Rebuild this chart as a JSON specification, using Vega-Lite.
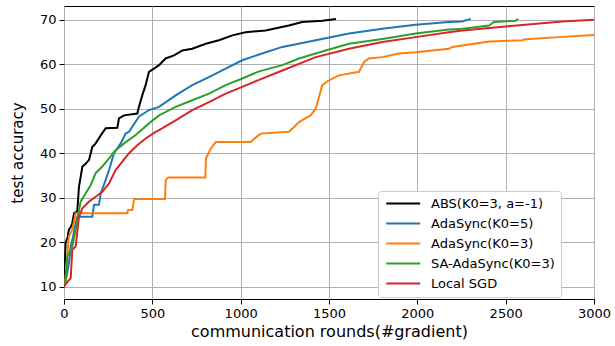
{
  "$schema": "https://vega.github.io/schema/vega-lite/v6.json",
  "width": 530,
  "height": 293,
  "autosize": "none",
  "padding": {"left": 64, "top": 6, "right": 21, "bottom": 47},
  "background": "white",
  "config": {
    "font": "DejaVu Sans",
    "view": {"stroke": "black", "strokeWidth": 1},
    "axis": {
      "domain": false,
      "gridColor": "#b0b0b0",
      "gridWidth": 1,
      "tickColor": "black",
      "tickSize": 5,
      "labelColor": "black",
      "labelFontSize": 13,
      "labelFont": "DejaVu Sans",
      "titleFont": "DejaVu Sans",
      "titleFontWeight": "normal",
      "titleColor": "black",
      "labelPadding": 3
    }
  },
  "data": {
    "values": [
      {"s": "ABS(K0=3, a=-1)", "x": 0, "y": 10},
      {"s": "ABS(K0=3, a=-1)", "x": 9, "y": 19.8},
      {"s": "ABS(K0=3, a=-1)", "x": 20, "y": 21},
      {"s": "ABS(K0=3, a=-1)", "x": 28, "y": 22.8},
      {"s": "ABS(K0=3, a=-1)", "x": 40, "y": 23.5},
      {"s": "ABS(K0=3, a=-1)", "x": 47, "y": 24.3},
      {"s": "ABS(K0=3, a=-1)", "x": 57, "y": 26.5},
      {"s": "ABS(K0=3, a=-1)", "x": 75, "y": 26.9},
      {"s": "ABS(K0=3, a=-1)", "x": 85, "y": 32.5},
      {"s": "ABS(K0=3, a=-1)", "x": 104, "y": 37},
      {"s": "ABS(K0=3, a=-1)", "x": 120, "y": 37.5},
      {"s": "ABS(K0=3, a=-1)", "x": 142, "y": 38.5},
      {"s": "ABS(K0=3, a=-1)", "x": 160, "y": 41.4},
      {"s": "ABS(K0=3, a=-1)", "x": 179, "y": 42.2},
      {"s": "ABS(K0=3, a=-1)", "x": 208, "y": 44},
      {"s": "ABS(K0=3, a=-1)", "x": 236, "y": 45.6},
      {"s": "ABS(K0=3, a=-1)", "x": 302, "y": 45.7},
      {"s": "ABS(K0=3, a=-1)", "x": 311, "y": 47.8},
      {"s": "ABS(K0=3, a=-1)", "x": 340, "y": 48.5},
      {"s": "ABS(K0=3, a=-1)", "x": 415, "y": 48.9},
      {"s": "ABS(K0=3, a=-1)", "x": 424, "y": 50.4},
      {"s": "ABS(K0=3, a=-1)", "x": 443, "y": 53},
      {"s": "ABS(K0=3, a=-1)", "x": 462, "y": 55.3},
      {"s": "ABS(K0=3, a=-1)", "x": 481, "y": 58.3},
      {"s": "ABS(K0=3, a=-1)", "x": 509, "y": 59},
      {"s": "ABS(K0=3, a=-1)", "x": 538, "y": 59.8},
      {"s": "ABS(K0=3, a=-1)", "x": 575, "y": 61.3},
      {"s": "ABS(K0=3, a=-1)", "x": 623, "y": 62},
      {"s": "ABS(K0=3, a=-1)", "x": 670, "y": 63.1},
      {"s": "ABS(K0=3, a=-1)", "x": 726, "y": 63.5},
      {"s": "ABS(K0=3, a=-1)", "x": 802, "y": 64.6},
      {"s": "ABS(K0=3, a=-1)", "x": 877, "y": 65.4},
      {"s": "ABS(K0=3, a=-1)", "x": 953, "y": 66.5},
      {"s": "ABS(K0=3, a=-1)", "x": 1028, "y": 67.2},
      {"s": "ABS(K0=3, a=-1)", "x": 1141, "y": 67.6},
      {"s": "ABS(K0=3, a=-1)", "x": 1273, "y": 68.7},
      {"s": "ABS(K0=3, a=-1)", "x": 1349, "y": 69.5},
      {"s": "ABS(K0=3, a=-1)", "x": 1462, "y": 69.8},
      {"s": "ABS(K0=3, a=-1)", "x": 1540, "y": 70.2},

      {"s": "AdaSync(K0=5)", "x": 0, "y": 10},
      {"s": "AdaSync(K0=5)", "x": 6, "y": 10.4},
      {"s": "AdaSync(K0=5)", "x": 28, "y": 15.3},
      {"s": "AdaSync(K0=5)", "x": 38, "y": 19},
      {"s": "AdaSync(K0=5)", "x": 50, "y": 21},
      {"s": "AdaSync(K0=5)", "x": 65, "y": 24},
      {"s": "AdaSync(K0=5)", "x": 75, "y": 25.7},
      {"s": "AdaSync(K0=5)", "x": 160, "y": 25.7},
      {"s": "AdaSync(K0=5)", "x": 170, "y": 28.4},
      {"s": "AdaSync(K0=5)", "x": 198, "y": 28.4},
      {"s": "AdaSync(K0=5)", "x": 208, "y": 31},
      {"s": "AdaSync(K0=5)", "x": 236, "y": 34},
      {"s": "AdaSync(K0=5)", "x": 255, "y": 36.2},
      {"s": "AdaSync(K0=5)", "x": 283, "y": 40},
      {"s": "AdaSync(K0=5)", "x": 321, "y": 42.2},
      {"s": "AdaSync(K0=5)", "x": 349, "y": 44.4},
      {"s": "AdaSync(K0=5)", "x": 368, "y": 44.8},
      {"s": "AdaSync(K0=5)", "x": 424, "y": 48.2},
      {"s": "AdaSync(K0=5)", "x": 481, "y": 49.7},
      {"s": "AdaSync(K0=5)", "x": 538, "y": 50.4},
      {"s": "AdaSync(K0=5)", "x": 632, "y": 53},
      {"s": "AdaSync(K0=5)", "x": 726, "y": 55.3},
      {"s": "AdaSync(K0=5)", "x": 820, "y": 57.1},
      {"s": "AdaSync(K0=5)", "x": 915, "y": 59},
      {"s": "AdaSync(K0=5)", "x": 1009, "y": 60.9},
      {"s": "AdaSync(K0=5)", "x": 1104, "y": 62.2},
      {"s": "AdaSync(K0=5)", "x": 1236, "y": 63.9},
      {"s": "AdaSync(K0=5)", "x": 1425, "y": 65.4},
      {"s": "AdaSync(K0=5)", "x": 1613, "y": 66.9},
      {"s": "AdaSync(K0=5)", "x": 1802, "y": 68},
      {"s": "AdaSync(K0=5)", "x": 1990, "y": 68.9},
      {"s": "AdaSync(K0=5)", "x": 2179, "y": 69.5},
      {"s": "AdaSync(K0=5)", "x": 2254, "y": 69.6},
      {"s": "AdaSync(K0=5)", "x": 2302, "y": 70.2},

      {"s": "AdaSync(K0=3)", "x": 0, "y": 10},
      {"s": "AdaSync(K0=3)", "x": 6, "y": 10.4},
      {"s": "AdaSync(K0=3)", "x": 19, "y": 17.5},
      {"s": "AdaSync(K0=3)", "x": 28, "y": 21.3},
      {"s": "AdaSync(K0=3)", "x": 47, "y": 22.8},
      {"s": "AdaSync(K0=3)", "x": 62, "y": 25.7},
      {"s": "AdaSync(K0=3)", "x": 66, "y": 26.5},
      {"s": "AdaSync(K0=3)", "x": 359, "y": 26.5},
      {"s": "AdaSync(K0=3)", "x": 362, "y": 27.2},
      {"s": "AdaSync(K0=3)", "x": 387, "y": 27.2},
      {"s": "AdaSync(K0=3)", "x": 397, "y": 29.7},
      {"s": "AdaSync(K0=3)", "x": 572, "y": 29.7},
      {"s": "AdaSync(K0=3)", "x": 576, "y": 34},
      {"s": "AdaSync(K0=3)", "x": 590, "y": 34.5},
      {"s": "AdaSync(K0=3)", "x": 800, "y": 34.5},
      {"s": "AdaSync(K0=3)", "x": 803, "y": 38.8},
      {"s": "AdaSync(K0=3)", "x": 830, "y": 41},
      {"s": "AdaSync(K0=3)", "x": 859, "y": 42.5},
      {"s": "AdaSync(K0=3)", "x": 1057, "y": 42.5},
      {"s": "AdaSync(K0=3)", "x": 1075, "y": 43.2},
      {"s": "AdaSync(K0=3)", "x": 1113, "y": 44.4},
      {"s": "AdaSync(K0=3)", "x": 1273, "y": 44.8},
      {"s": "AdaSync(K0=3)", "x": 1302, "y": 45.9},
      {"s": "AdaSync(K0=3)", "x": 1330, "y": 47},
      {"s": "AdaSync(K0=3)", "x": 1396, "y": 48.5},
      {"s": "AdaSync(K0=3)", "x": 1425, "y": 50},
      {"s": "AdaSync(K0=3)", "x": 1443, "y": 52.6},
      {"s": "AdaSync(K0=3)", "x": 1462, "y": 55.3},
      {"s": "AdaSync(K0=3)", "x": 1500, "y": 56.4},
      {"s": "AdaSync(K0=3)", "x": 1557, "y": 57.5},
      {"s": "AdaSync(K0=3)", "x": 1670, "y": 58.3},
      {"s": "AdaSync(K0=3)", "x": 1698, "y": 60.5},
      {"s": "AdaSync(K0=3)", "x": 1726, "y": 61.3},
      {"s": "AdaSync(K0=3)", "x": 1802, "y": 61.6},
      {"s": "AdaSync(K0=3)", "x": 1896, "y": 62.4},
      {"s": "AdaSync(K0=3)", "x": 1990, "y": 62.7},
      {"s": "AdaSync(K0=3)", "x": 2179, "y": 63.5},
      {"s": "AdaSync(K0=3)", "x": 2198, "y": 63.9},
      {"s": "AdaSync(K0=3)", "x": 2406, "y": 65.1},
      {"s": "AdaSync(K0=3)", "x": 2594, "y": 65.4},
      {"s": "AdaSync(K0=3)", "x": 2613, "y": 65.6},
      {"s": "AdaSync(K0=3)", "x": 2802, "y": 66.1},
      {"s": "AdaSync(K0=3)", "x": 3000, "y": 66.6},

      {"s": "SA-AdaSync(K0=3)", "x": 0, "y": 10},
      {"s": "SA-AdaSync(K0=3)", "x": 6, "y": 10.4},
      {"s": "SA-AdaSync(K0=3)", "x": 19, "y": 16.8},
      {"s": "SA-AdaSync(K0=3)", "x": 47, "y": 19},
      {"s": "SA-AdaSync(K0=3)", "x": 66, "y": 22.8},
      {"s": "SA-AdaSync(K0=3)", "x": 85, "y": 27.2},
      {"s": "SA-AdaSync(K0=3)", "x": 94, "y": 29.1},
      {"s": "SA-AdaSync(K0=3)", "x": 123, "y": 31},
      {"s": "SA-AdaSync(K0=3)", "x": 151, "y": 32.8},
      {"s": "SA-AdaSync(K0=3)", "x": 179, "y": 35.5},
      {"s": "SA-AdaSync(K0=3)", "x": 217, "y": 37},
      {"s": "SA-AdaSync(K0=3)", "x": 255, "y": 38.8},
      {"s": "SA-AdaSync(K0=3)", "x": 283, "y": 40.3},
      {"s": "SA-AdaSync(K0=3)", "x": 340, "y": 42.2},
      {"s": "SA-AdaSync(K0=3)", "x": 406, "y": 44.1},
      {"s": "SA-AdaSync(K0=3)", "x": 481, "y": 46.7},
      {"s": "SA-AdaSync(K0=3)", "x": 538, "y": 48.5},
      {"s": "SA-AdaSync(K0=3)", "x": 632, "y": 50.4},
      {"s": "SA-AdaSync(K0=3)", "x": 726, "y": 51.9},
      {"s": "SA-AdaSync(K0=3)", "x": 821, "y": 53.4},
      {"s": "SA-AdaSync(K0=3)", "x": 915, "y": 55.3},
      {"s": "SA-AdaSync(K0=3)", "x": 1009, "y": 56.8},
      {"s": "SA-AdaSync(K0=3)", "x": 1104, "y": 58.4},
      {"s": "SA-AdaSync(K0=3)", "x": 1236, "y": 59.8},
      {"s": "SA-AdaSync(K0=3)", "x": 1330, "y": 61.3},
      {"s": "SA-AdaSync(K0=3)", "x": 1481, "y": 63.1},
      {"s": "SA-AdaSync(K0=3)", "x": 1613, "y": 64.6},
      {"s": "SA-AdaSync(K0=3)", "x": 1802, "y": 65.7},
      {"s": "SA-AdaSync(K0=3)", "x": 1990, "y": 66.9},
      {"s": "SA-AdaSync(K0=3)", "x": 2179, "y": 67.8},
      {"s": "SA-AdaSync(K0=3)", "x": 2236, "y": 67.9},
      {"s": "SA-AdaSync(K0=3)", "x": 2406, "y": 68.7},
      {"s": "SA-AdaSync(K0=3)", "x": 2434, "y": 69.5},
      {"s": "SA-AdaSync(K0=3)", "x": 2557, "y": 69.8},
      {"s": "SA-AdaSync(K0=3)", "x": 2570, "y": 70.2},

      {"s": "Local SGD", "x": 0, "y": 10},
      {"s": "Local SGD", "x": 6, "y": 10.4},
      {"s": "Local SGD", "x": 38, "y": 11.9},
      {"s": "Local SGD", "x": 47, "y": 18.3},
      {"s": "Local SGD", "x": 66, "y": 19},
      {"s": "Local SGD", "x": 85, "y": 25.7},
      {"s": "Local SGD", "x": 104, "y": 27.6},
      {"s": "Local SGD", "x": 142, "y": 29.1},
      {"s": "Local SGD", "x": 179, "y": 30.2},
      {"s": "Local SGD", "x": 217, "y": 31.3},
      {"s": "Local SGD", "x": 255, "y": 33.2},
      {"s": "Local SGD", "x": 292, "y": 36.2},
      {"s": "Local SGD", "x": 330, "y": 38.1},
      {"s": "Local SGD", "x": 368, "y": 40},
      {"s": "Local SGD", "x": 415, "y": 41.8},
      {"s": "Local SGD", "x": 462, "y": 43.3},
      {"s": "Local SGD", "x": 519, "y": 44.8},
      {"s": "Local SGD", "x": 538, "y": 45.2},
      {"s": "Local SGD", "x": 632, "y": 47.4},
      {"s": "Local SGD", "x": 726, "y": 49.7},
      {"s": "Local SGD", "x": 821, "y": 51.5},
      {"s": "Local SGD", "x": 915, "y": 53.4},
      {"s": "Local SGD", "x": 1009, "y": 54.9},
      {"s": "Local SGD", "x": 1104, "y": 56.5},
      {"s": "Local SGD", "x": 1236, "y": 58.6},
      {"s": "Local SGD", "x": 1425, "y": 61.6},
      {"s": "Local SGD", "x": 1613, "y": 63.5},
      {"s": "Local SGD", "x": 1802, "y": 65},
      {"s": "Local SGD", "x": 1990, "y": 66.1},
      {"s": "Local SGD", "x": 2179, "y": 67.2},
      {"s": "Local SGD", "x": 2254, "y": 67.6},
      {"s": "Local SGD", "x": 2500, "y": 68.5},
      {"s": "Local SGD", "x": 2820, "y": 69.6},
      {"s": "Local SGD", "x": 3000, "y": 70}
    ]
  },
  "mark": {"type": "line", "strokeWidth": 2, "clip": true},
  "encoding": {
    "x": {
      "field": "x",
      "type": "quantitative",
      "scale": {"domain": [0, 3000], "nice": false, "zero": false},
      "axis": {"values": [0, 500, 1000, 1500, 2000, 2500, 3000], "format": "d", "title": "communication rounds(#gradient)", "titleFontSize": 16, "titlePadding": 3, "labelFlush": false}
    },
    "y": {
      "field": "y",
      "type": "quantitative",
      "scale": {"domain": [7.2, 73.1], "nice": false, "zero": false},
      "axis": {"values": [10, 20, 30, 40, 50, 60, 70], "format": "d", "title": "test accuracy", "titleFontSize": 15, "titlePadding": 14}
    },
    "color": {
      "field": "s",
      "type": "nominal",
      "sort": null,
      "scale": {
        "domain": ["ABS(K0=3, a=-1)", "AdaSync(K0=5)", "AdaSync(K0=3)", "SA-AdaSync(K0=3)", "Local SGD"],
        "range": ["#000000", "#1f77b4", "#ff7f0e", "#2ca02c", "#d62728"]
      },
      "legend": {
        "title": null,
        "orient": "none",
        "legendX": 314,
        "legendY": 185,
        "symbolType": "M-1,0H7",
        "symbolSize": 72,
        "symbolStrokeWidth": 2,
        "labelFontSize": 13,
        "labelColor": "black",
        "labelOffset": 34,
        "strokeColor": "#cccccc",
        "fillColor": "white",
        "cornerRadius": 3,
        "padding": 6,
        "rowPadding": 6
      }
    }
  }
}
